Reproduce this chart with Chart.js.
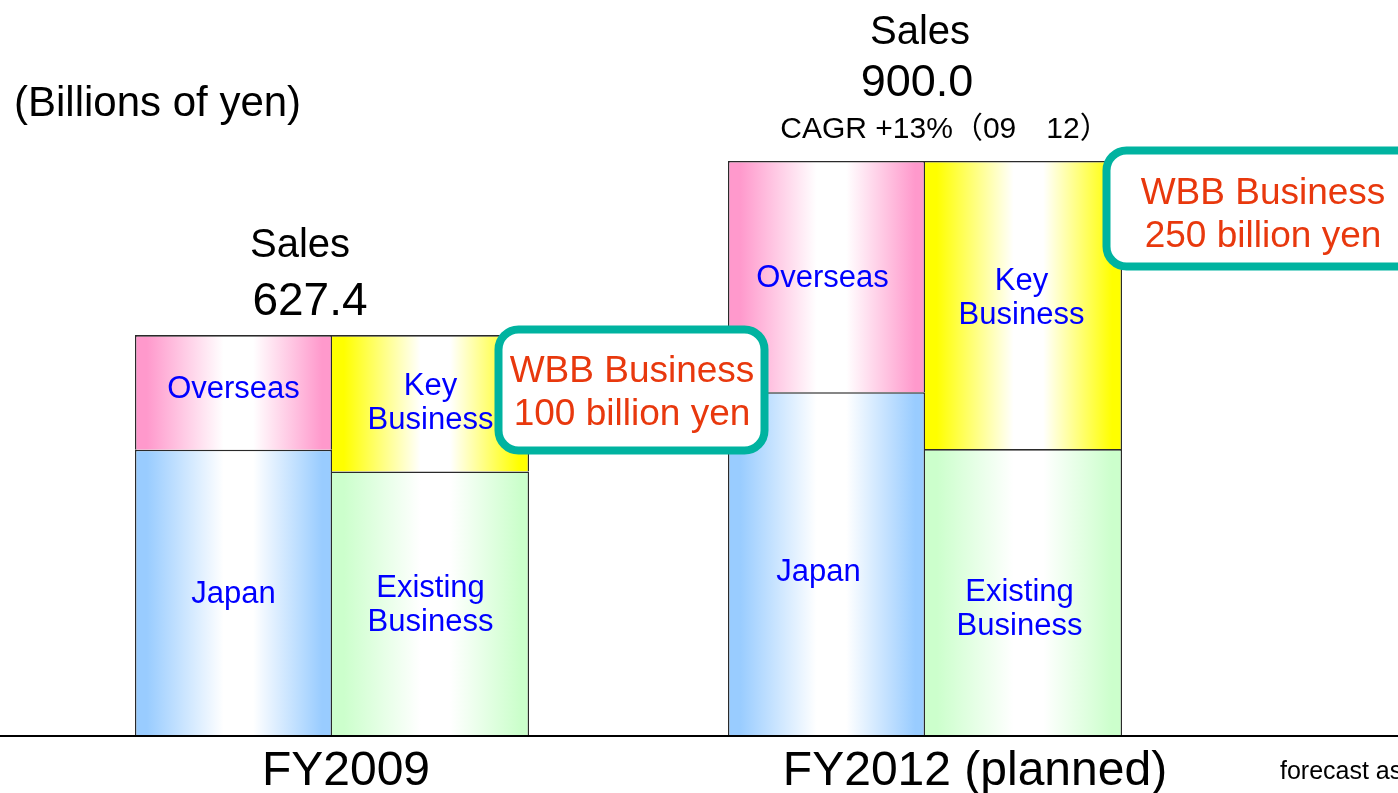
<!DOCTYPE html>
<html>
<head>
<meta charset="utf-8">
<script src="https://cdn.jsdelivr.net/npm/chart.js@4/dist/chart.umd.min.js"></script>
<style>
  html, body { margin: 0; padding: 0; background: #fff; overflow: hidden; }
</style>
</head>
<body>
<canvas id="chart" width="1398" height="793"></canvas>
<script>
// data (billions of yen)
const years = ['FY2009', 'FY2012 (planned)'];
const japan = [448, 538];
const overseas = [179.4, 362];
const existingBiz = [414, 449];
const keyBiz = [213.4, 451];
const salesTotal = ['627.4', '900.0'];
const wbbText = [['WBB Business', '100 billion yen'], ['WBB Business', '250 billion yen']];

const FONT = "'Liberation Sans', Arial, 'Noto Sans CJK JP', sans-serif";
const CAT_PCT = 0.6644;

// horizontal "metal" gradient: colour at the edges, white in the middle
function barGradient(color, side) {
  return (c) => {
    const chart = c.chart;
    const xs = chart.scales.x;
    if (!xs || c.type !== 'data') return color;
    const center = xs.getPixelForValue(c.dataIndex);
    const w = (xs.width / years.length) * CAT_PCT / 2;
    if (!isFinite(center) || !isFinite(w) || w <= 0) return color;
    const x0 = side === 'left' ? center - w : center;
    const g = chart.ctx.createLinearGradient(x0, 0, x0 + w, 0);
    g.addColorStop(0, color);
    g.addColorStop(0.06, color);
    g.addColorStop(0.45, '#ffffff');
    g.addColorStop(0.6, '#ffffff');
    g.addColorStop(0.95, color);
    g.addColorStop(1, color);
    return g;
  };
}

// single hairlines between touching segments
const leftBorder = { top: 1.6, left: 1.4, right: 1.4, bottom: 0 };
const rightBorder = { top: 1.6, left: 0, right: 1.4, bottom: 0 };

// small vertical/horizontal nudges of the in-bar text, per dataset and year
const labelNudge = [[[0, 2], [-8, 8]], [[0, -3], [-4, 2]], [[0, 2], [-4, 17]], [[0, 0], [-2, -7]]];

function drawLines(ctx, lines, x, y, step) {
  lines.forEach((t, i) => ctx.fillText(t, x, y + i * step));
}

const overlay = {
  id: 'overlay',
  afterDatasetsDraw(chart) {
    const { ctx, scales: { x, y } } = chart;
    ctx.save();

    // labels inside each bar segment
    ctx.fillStyle = '#0000ff';
    ctx.font = '31px ' + FONT;
    ctx.textAlign = 'center';
    ctx.textBaseline = 'middle';
    chart.data.datasets.forEach((ds, di) => {
      const lines = ds.label.split('\n');
      chart.getDatasetMeta(di).data.forEach((bar, i) => {
        const [dx, dy] = labelNudge[di][i];
        const cy = (bar.y + bar.base) / 2 - (lines.length - 1) * 17 + dy;
        drawLines(ctx, lines, bar.x + dx, cy, 34);
      });
    });

    // baseline across the whole slide
    const y0 = y.getPixelForValue(0);
    ctx.strokeStyle = '#000';
    ctx.lineWidth = 2;
    ctx.beginPath();
    ctx.moveTo(0, y0);
    ctx.lineTo(chart.width, y0);
    ctx.stroke();

    // category labels
    ctx.fillStyle = '#000';
    ctx.textBaseline = 'alphabetic';
    ctx.font = '48px ' + FONT;
    const shift = [14, 50];
    years.forEach((lab, i) => ctx.fillText(lab, x.getPixelForValue(i) + shift[i], 785));

    // unit
    ctx.textAlign = 'left';
    ctx.font = '42px ' + FONT;
    ctx.fillText('(Billions of yen)', 14, 116);

    // sales totals
    ctx.textAlign = 'center';
    ctx.font = '40px ' + FONT;
    ctx.fillText('Sales', 300, 257);
    ctx.fillText('Sales', 920, 44);
    ctx.font = '46px ' + FONT;
    ctx.fillText(salesTotal[0], 310, 315);
    ctx.font = '45px ' + FONT;
    ctx.fillText(salesTotal[1], 917, 96);
    ctx.font = '30px ' + FONT;
    ctx.fillText('CAGR +13%（09　12）', 945, 138);

    // WBB boxes
    const boxes = [[498.5, 329.5, 266, 121], [1106.5, 150.5, 330, 116]];
    const textPos = [[632, 382], [1263, 204]];
    boxes.forEach((b, i) => {
      ctx.beginPath();
      ctx.roundRect(b[0], b[1], b[2], b[3], 20);
      ctx.fillStyle = '#fff';
      ctx.fill();
      ctx.lineWidth = 8;
      ctx.strokeStyle = '#00b3a0';
      ctx.stroke();
      ctx.fillStyle = '#e8380d';
      ctx.font = '37px ' + FONT;
      drawLines(ctx, wbbText[i], textPos[i][0], textPos[i][1], 43);
    });

    // footnote, cut by the slide edge
    ctx.fillStyle = '#000';
    ctx.textAlign = 'left';
    ctx.font = '25px ' + FONT;
    ctx.fillText('forecast as of May 2010', 1280, 779);

    ctx.restore();
  }
};

const ctx = document.getElementById('chart').getContext('2d');
new Chart(ctx, {
  type: 'bar',
  data: {
    labels: years,
    datasets: [
      { label: 'Japan', data: japan, stack: 'region', borderWidth: leftBorder, backgroundColor: barGradient('#99ccff', 'left') },
      { label: 'Overseas', data: overseas, stack: 'region', borderWidth: leftBorder, backgroundColor: barGradient('#ff99cc', 'left') },
      { label: 'Existing\nBusiness', data: existingBiz, stack: 'biz', borderWidth: rightBorder, backgroundColor: barGradient('#ccffcc', 'right') },
      { label: 'Key\nBusiness', data: keyBiz, stack: 'biz', borderWidth: rightBorder, backgroundColor: barGradient('#ffff00', 'right') }
    ]
  },
  options: {
    responsive: false,
    animation: false,
    devicePixelRatio: 1,
    categoryPercentage: CAT_PCT,
    barPercentage: 1,
    borderColor: '#2a2a2a',
    borderSkipped: false,
    layout: { padding: { left: 35.5, right: 176.5, top: 97, bottom: 57 } },
    plugins: { legend: { display: false }, tooltip: { enabled: false } },
    scales: {
      x: { display: false, stacked: true },
      y: { display: false, stacked: true, min: 0, max: 1000 }
    }
  },
  plugins: [overlay]
});
</script>
</body>
</html>
